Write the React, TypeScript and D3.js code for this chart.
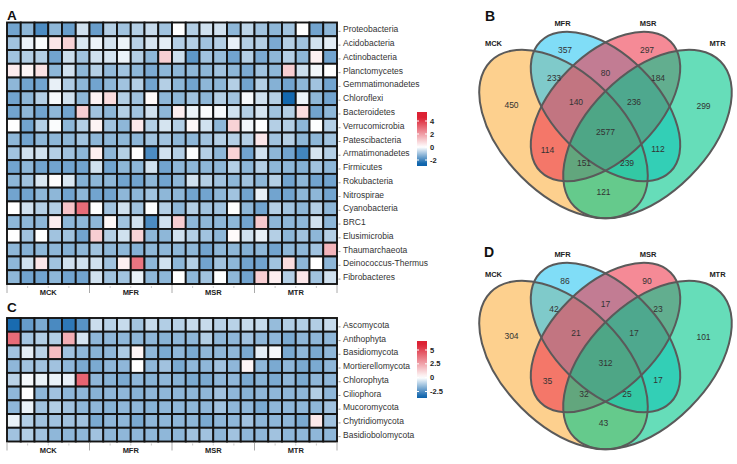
import React from 'react';
import * as d3 from 'd3';

const FONT = '"Liberation Sans", Arial, Helvetica, sans-serif';

const groups = ['MCK', 'MFR', 'MSR', 'MTR'];
const samplesPerGroup = 6;

const bacteriaNames = [
  'Proteobacteria', 'Acidobacteria', 'Actinobacteria', 'Planctomycetes', 'Gemmatimonadetes',
  'Chloroflexi', 'Bacteroidetes', 'Verrucomicrobia', 'Patescibacteria', 'Armatimonadetes',
  'Firmicutes', 'Rokubacteria', 'Nitrospirae', 'Cyanobacteria', 'BRC1', 'Elusimicrobia',
  'Thaumarchaeota', 'Deinococcus-Thermus', 'Fibrobacteres',
];

const fungiNames = [
  'Ascomycota', 'Anthophyta', 'Basidiomycota', 'Mortierellomycota', 'Chlorophyta',
  'Ciliophora', 'Mucoromycota', 'Chytridiomycota', 'Basidiobolomycota',
];

// one row per phylum, 24 samples (MCK1-6, MFR1-6, MSR1-6, MTR1-6)
const bacteriaValues = [
  [-1.5, -1.2, -1.9, -1.2, -1.6, -0.5, -1.6, -0.8, -1.0, -0.8, -0.6, -1.0, 0, -0.8, -0.5, -0.5, -1.2, -0.7, -1.0, -1.2, -1.0, 0, -1.5, -1.2],
  [-1.0, -0.2, -0.05, 0.5, 0.9, -0.4, -0.2, -0.45, -0.2, -0.75, -0.45, -0.3, -0.8, -0.8, -1.0, -0.8, -0.25, -0.8, -0.8, -1.4, -0.8, -1.0, -0.5, -0.3],
  [-1.0, -0.8, -0.8, -1.5, -0.55, -1.0, -0.5, -0.45, -0.2, -0.8, -1.2, 1.0, -0.55, -1.7, -1.0, -1.1, -1.5, -0.8, -1.4, -1.2, -0.8, -1.2, 0.3, -1.5],
  [0.4, 0.2, 0.6, -1.2, -0.5, -1.2, -0.8, -1.15, -1.0, -1.2, -1.4, -1.2, -1.2, -1.2, -1.2, -1.0, -1.2, -1.4, -1.0, -1.2, 1.0, -0.55, -0.15, 0],
  [-1.2, -1.5, -1.5, -0.25, -0.85, -1.2, -1.5, -1.2, -1.0, -0.8, -1.5, -0.8, -1.2, -1.5, -1.2, -1.2, -0.8, -1.5, -0.8, -1.3, -1.5, -1.2, -1.0, -1.5],
  [-1.5, -1.2, -0.8, -0.1, -0.5, -1.2, 0.25, 0.7, -0.8, -1.0, 0.1, -1.2, -1.2, -1.0, -1.2, -0.8, -1.0, -0.1, -0.5, -0.8, -2.5, -0.2, -1.2, -1.5],
  [-1.5, -1.2, -1.5, -1.2, -1.5, 1.0, -1.0, -1.2, -0.8, -1.0, -0.5, -1.2, 0.35, -0.2, -0.05, -0.1, -0.5, -0.8, -0.45, -1.0, -0.8, 0.7, -1.5, -1.2],
  [0, -1.5, -0.8, -0.05, -1.2, -0.8, 0.25, -1.0, -1.2, 0.45, -0.8, -0.45, -0.8, 0.15, -0.5, -1.2, 0.9, -0.15, 0, -0.8, -0.8, -1.2, -0.02, -0.8],
  [-1.2, -1.5, -1.2, -1.2, -1.2, -1.0, -1.2, -1.2, -1.2, -1.2, -1.0, -1.0, -1.2, -1.2, -1.0, -0.8, -0.8, -0.8, 0.5, -1.0, -0.8, -1.2, -1.2, -1.0],
  [-1.0, -0.5, -0.5, -0.8, -1.0, -1.2, 0.3, -1.2, -0.8, 0, -1.9, -0.5, -0.8, -0.05, -0.8, -1.2, 0.9, -1.5, -0.5, -1.2, -1.5, -2.0, -0.45, -0.8],
  [-1.5, -1.2, -1.5, -1.5, -1.5, -1.5, -0.5, -1.5, -1.2, -1.2, -0.5, -1.5, -1.2, -1.2, -1.2, -1.2, -0.8, -1.2, -0.8, -1.2, -1.2, -1.3, -1.0, -1.2],
  [-1.2, -1.0, -0.4, 0.05, -0.4, -1.3, -1.2, -1.2, -1.5, -1.5, -1.2, -1.5, -1.2, -0.5, -0.8, -1.0, -1.2, -1.0, -1.2, -0.8, -1.5, -1.2, -1.5, -1.5],
  [-1.5, -1.5, -1.2, -1.2, -1.5, -1.2, -1.5, -1.5, -1.2, -1.2, -1.0, -1.2, -1.2, -1.5, -1.5, -1.2, -1.0, -1.5, -0.25, -1.5, -1.5, -1.2, -1.2, -1.5],
  [0, -0.5, -0.8, -0.8, 1.2, 3.0, -0.02, -1.0, -0.5, -1.0, -0.03, -0.8, -1.2, -0.8, -1.0, -1.0, -0.02, -1.2, -1.5, -0.8, -1.0, -1.2, -0.8, -1.2],
  [-1.2, -1.2, -1.2, 0.35, -1.2, -1.2, -1.2, 0.15, -1.0, -0.5, -1.9, -0.5, 1.0, -1.2, -1.2, -1.2, -1.2, -1.5, 1.1, -1.2, -1.2, -1.2, -0.5, -1.2],
  [0, -1.0, 0, -1.0, -1.0, -1.5, 1.0, -0.8, -0.5, 0.9, -1.2, -1.2, -0.5, -0.8, -1.0, -1.2, 0.08, -0.5, -0.25, -0.8, -1.2, -1.0, -1.2, -0.8],
  [-1.2, -1.3, -1.2, -1.2, -1.3, -1.2, -1.0, -1.2, -1.2, -1.3, -1.2, -1.2, -1.2, -1.2, -1.5, -1.2, -1.2, -1.3, -1.2, -1.5, -1.2, -1.2, -1.0, 1.5],
  [-1.2, -0.5, 0.5, -1.0, -0.5, -0.5, -0.5, -1.0, 0.3, 2.8, -1.2, -0.5, -1.2, -0.8, -1.5, -1.0, -1.2, -1.5, -1.5, -1.0, 0.7, -1.2, 0, -1.2],
  [-1.2, -1.5, -1.5, -1.2, -1.5, -1.5, -0.5, -1.0, -1.0, -0.25, -1.2, -1.2, 0, -1.2, -1.0, -0.02, -1.2, -1.5, 1.0, 0.35, -0.8, 0.5, -1.0, -0.5],
];

const fungiValues = [
  [-3.3, -2.2, -1.9, -2.6, -3.0, -2.4, -0.75, -1.0, -0.8, -1.3, -0.8, -1.1, -1.0, -0.8, -0.8, -1.0, -1.0, -0.8, -0.8, -1.5, -1.1, -1.1, -1.1, -0.8],
  [4.0, -1.3, -1.1, -1.1, 2.2, -0.6, -1.6, -1.6, -1.6, -1.6, -1.6, -1.7, -1.6, -1.6, -1.1, -1.6, -1.6, -1.35, -1.6, -1.6, -1.9, -1.6, -1.6, -1.6],
  [-1.35, -0.4, -1.0, 1.8, -1.35, -1.6, -1.7, -1.6, -1.2, 0.3, -1.6, -1.9, -1.6, -1.9, -1.6, -1.6, -1.6, -1.9, -0.4, -0.15, -1.9, -1.6, -1.9, -1.6],
  [-1.6, -1.35, -1.35, -1.35, -1.6, -1.9, -1.9, -1.6, -1.6, 0, -1.6, -1.35, -1.9, -1.6, -1.6, -1.35, -1.6, 0.3, -1.6, -1.9, -1.6, -1.9, -1.9, -1.6],
  [-1.0, -0.15, -0.3, -0.3, -0.35, 4.2, -1.6, -1.7, -1.9, -1.6, -1.7, -1.6, -1.7, -1.9, -1.9, -1.6, -1.6, -1.9, -1.7, -1.9, -1.6, -1.9, -1.6, -1.6],
  [-1.6, 0, -1.6, -1.35, -1.6, -1.6, -1.7, -1.6, -1.6, -1.7, -1.6, -1.6, -1.6, -1.6, -1.6, -1.35, -1.6, -1.7, -1.6, -1.6, -1.6, -1.6, -1.1, -1.6],
  [-1.6, -0.3, -1.35, -1.1, -1.35, -1.6, -1.6, -1.7, -1.6, -1.6, -1.7, -1.6, -1.6, -1.6, -1.6, -1.35, -1.6, -1.6, -1.9, -1.6, -1.6, -1.6, -1.6, -1.35],
  [-0.3, -1.1, -1.35, -1.35, -1.35, -1.35, -1.9, -1.6, -1.6, -1.9, -1.6, -1.6, -1.6, -1.6, -1.9, -1.6, -1.6, -1.35, -1.6, -1.6, -1.6, -1.9, 0.6, -1.35],
  [-1.35, -1.1, -1.35, -1.6, -1.6, -1.6, -1.35, -1.6, -1.6, -1.6, -1.6, -1.6, -1.6, -1.35, -1.35, -1.6, -1.35, -1.6, -1.6, -1.35, -1.6, -1.6, -1.6, -1.6],
];

const bacteriaTicks = [4, 2, 0, -2];
const fungiTicks = [5, 2.5, 0, -2.5];

// venn regions, in this order:
// MCK, MFR, MSR, MTR, MCK&MFR, MFR&MSR, MSR&MTR, MCK&MFR&MSR, MFR&MSR&MTR, all four,
// MCK&MSR, MFR&MTR, MCK&MSR&MTR, MCK&MFR&MTR, MCK&MTR
const bacteriaCounts = [450, 357, 297, 299, 233, 80, 184, 140, 236, 2577, 114, 112, 151, 239, 121];
const fungiCounts = [304, 86, 90, 101, 42, 17, 23, 21, 17, 312, 35, 17, 32, 25, 43];

const vennColors = ['#FBB143', '#2BC6F2', '#EE3C50', '#00C68A'];

// layout of the venn (offsets from the centre line)
const vennCx = 605.5;
const ellipses = [
  { dx: -42, cy: 134, rx: 103, ry: 60, rot: 45 },
  { dx: 0, cy: 106.5, rx: 92, ry: 52, rot: 45 },
  { dx: 0, cy: 106.5, rx: 92, ry: 52, rot: -45 },
  { dx: 42, cy: 134, rx: 103, ry: 60, rot: -45 },
];
const setLabelPos = [[-112, 43.5], [-43, 23], [42.5, 23], [112, 43.5]];
const regionPos = [
  [-94, 105], [-40.5, 50], [41.5, 50], [98, 106],
  [-51.5, 78], [0, 73], [52.5, 78],
  [-29.5, 102], [28.5, 102], [0, 132],
  [-58, 150], [52.5, 149], [-21.5, 163], [21.5, 163], [-2, 192],
];

const gridX: [number, number] = [7, 337];

const Heatmap = ({ names, values, top, bottom, color }) => {
  const x = d3.scaleBand().domain(d3.range(24).map(String)).range(gridX);
  const y = d3.scaleBand().domain(names).range([top, bottom]);
  const g = d3.scaleBand().domain(groups).range(gridX);
  const cw = x.bandwidth();
  const ch = y.bandwidth();
  const bounds = [...groups.map(d => g(d)), gridX[1]];
  const minor = [];
  groups.forEach(d => {
    [1, 2, 3].forEach(k => minor.push(g(d) + (g.bandwidth() * k) / 4));
  });
  return (
    <g>
      {values.map((row, i) =>
        row.map((v, j) => (
          <rect
            key={i + '-' + j}
            x={x(String(j))}
            y={y(names[i])}
            width={cw}
            height={ch}
            fill={color(v)}
            stroke="#141414"
            strokeWidth={1.9}
          />
        ))
      )}
      {names.map(n => (
        <g key={n}>
          <line x1={338.5} x2={340.5} y1={y(n) + ch / 2 + 2} y2={y(n) + ch / 2 + 2} stroke="#777" strokeWidth={0.8} />
          <text x={343} y={y(n) + ch / 2} dy="0.36em" fontSize={8.5} fill="#333" fontFamily={FONT}>
            {n}
          </text>
        </g>
      ))}
      {bounds.map((bx, i) => (
        <line key={'b' + i} x1={bx} x2={bx} y1={bottom + 1} y2={bottom + 9} stroke="#aaa" strokeWidth={1} />
      ))}
      {minor.map((mx, i) => (
        <line key={'m' + i} x1={mx} x2={mx} y1={bottom + 2} y2={bottom + 4} stroke="#bbb" strokeWidth={0.8} />
      ))}
      {groups.map(d => (
        <text
          key={d}
          x={g(d) + g.bandwidth() / 2}
          y={bottom + 11}
          textAnchor="middle"
          fontSize={7.5}
          fontWeight="bold"
          fill="#222"
          fontFamily={FONT}
        >
          {d}
        </text>
      ))}
    </g>
  );
};

const ColorBar = ({ id, color, ticks, tickTop, tickBottom, barTop, barBottom }) => {
  const pos = d3.scaleLinear().domain([ticks[ticks.length - 1], ticks[0]]).range([tickBottom, tickTop]);
  const vTop = pos.invert(barTop);
  const vBottom = pos.invert(barBottom);
  const stops = d3.range(0, 1.0001, 0.05);
  return (
    <g>
      <defs>
        <linearGradient id={id} x1="0" x2="0" y1="0" y2="1">
          {stops.map(t => (
            <stop key={t} offset={t} stopColor={color(vTop + t * (vBottom - vTop))} />
          ))}
        </linearGradient>
      </defs>
      <rect x={417} y={barTop} width={10} height={barBottom - barTop} fill={`url(#${id})`} />
      {ticks.map(t => (
        <g key={t}>
          <line x1={417} x2={419} y1={pos(t)} y2={pos(t)} stroke="#fff" strokeWidth={1} />
          <line x1={425} x2={427} y1={pos(t)} y2={pos(t)} stroke="#fff" strokeWidth={1} />
          <text x={430} y={pos(t)} dy="0.35em" fontSize={7.5} fontWeight="bold" fill="#222" fontFamily={FONT}>
            {t}
          </text>
        </g>
      ))}
    </g>
  );
};

const Venn = ({ counts, dy }) => (
  <g transform={`translate(0,${dy})`}>
    {ellipses.map((e, i) => (
      <ellipse
        key={'f' + i}
        cx={0}
        cy={0}
        rx={e.rx}
        ry={e.ry}
        transform={`translate(${vennCx + e.dx},${e.cy}) rotate(${e.rot})`}
        fill={vennColors[i]}
        fillOpacity={0.6}
      />
    ))}
    {ellipses.map((e, i) => (
      <ellipse
        key={'s' + i}
        cx={0}
        cy={0}
        rx={e.rx}
        ry={e.ry}
        transform={`translate(${vennCx + e.dx},${e.cy}) rotate(${e.rot})`}
        fill="none"
        stroke="#5a5a5a"
        strokeWidth={2}
      />
    ))}
    {groups.map((s, i) => (
      <text
        key={s}
        x={vennCx + setLabelPos[i][0]}
        y={setLabelPos[i][1]}
        dy="0.35em"
        textAnchor="middle"
        fontSize={7.5}
        fontWeight="bold"
        fill="#222"
        fontFamily={FONT}
      >
        {s}
      </text>
    ))}
    {counts.map((c, i) => (
      <text
        key={'c' + i}
        x={vennCx + regionPos[i][0]}
        y={regionPos[i][1]}
        dy="0.35em"
        textAnchor="middle"
        fontSize={8.5}
        fill="#333"
        fontFamily={FONT}
      >
        {c}
      </text>
    ))}
  </g>
);

export default function App() {
  const bacteriaColor = d3
    .scaleLinear<string>()
    .domain([-2.6, 0, 4.5])
    .range(['#0B62AB', '#FFFFFF', '#DC2234'])
    .clamp(true);
  const fungiColor = d3
    .scaleLinear<string>()
    .domain([-3.5, 0, 6])
    .range(['#0B62AB', '#FFFFFF', '#DC2234'])
    .clamp(true);

  return (
    <svg
      width={737}
      height={464}
      style={{ position: 'absolute', left: 0, top: 0, background: '#fff' }}
      fontFamily={FONT}
    >
      <rect width={737} height={464} fill="#fff" />
      <text x={7} y={19.5} fontSize={13.5} fontWeight="bold" fill="#111">A</text>
      <text x={7} y={312} fontSize={13.5} fontWeight="bold" fill="#111">C</text>
      <text x={485} y={21} fontSize={14} fontWeight="bold" fill="#111">B</text>
      <text x={484} y={257} fontSize={14} fontWeight="bold" fill="#111">D</text>

      <Heatmap names={bacteriaNames} values={bacteriaValues} top={22.5} bottom={284} color={bacteriaColor} />
      <Heatmap names={fungiNames} values={fungiValues} top={318} bottom={441.5} color={fungiColor} />

      <ColorBar id="barA" color={bacteriaColor} ticks={bacteriaTicks} tickTop={121} tickBottom={160} barTop={112} barBottom={166} />
      <ColorBar id="barC" color={fungiColor} ticks={fungiTicks} tickTop={350} tickBottom={391.5} barTop={341} barBottom={398} />

      <Venn counts={bacteriaCounts} dy={0} />
      <Venn counts={fungiCounts} dy={231} />
    </svg>
  );
}
